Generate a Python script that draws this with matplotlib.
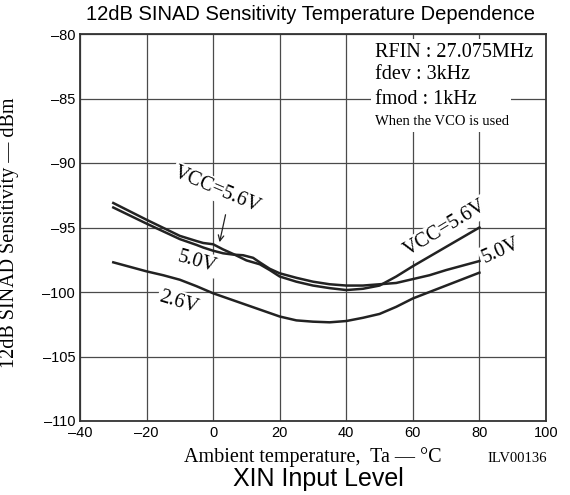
import matplotlib
matplotlib.use("Agg")
import matplotlib.pyplot as plt
from matplotlib.patches import Rectangle

# curve data
temp_56 = [-30, -20, -10, -5, -3, 0, 3, 6, 10, 14, 17, 20, 25, 30, 35, 40, 45, 50, 55, 60, 65, 70, 75, 80]
sens_56 = [-93.1, -94.4, -95.65, -96.05, -96.2, -96.3, -96.7, -97.05, -97.55, -97.85, -98.3, -98.8,
           -99.2, -99.5, -99.7, -99.85, -99.75, -99.5, -98.8, -98.0, -97.25, -96.5, -95.75, -95.0]

temp_50 = [-30, -20, -10, -5, -3, 0, 3, 6, 9, 12, 14, 17, 20, 25, 30, 35, 40, 45, 50, 55, 60, 65, 70, 75, 80]
sens_50 = [-93.45, -94.7, -95.9, -96.35, -96.55, -96.8, -97.0, -97.1, -97.15, -97.35, -97.7, -98.2,
           -98.55, -98.9, -99.2, -99.4, -99.5, -99.5, -99.4, -99.3, -99.0, -98.7, -98.3, -97.95, -97.6]

temp_26 = [-30, -25, -20, -15, -10, -5, 0, 5, 10, 15, 20, 25, 30, 35, 40, 45, 50, 55, 60, 65, 70, 75, 80]
sens_26 = [-97.7, -98.05, -98.4, -98.7, -99.05, -99.55, -100.1, -100.55, -101.0, -101.45, -101.9, -102.2,
           -102.3, -102.35, -102.25, -102.0, -101.7, -101.15, -100.5, -100.0, -99.5, -99.0, -98.5]

x_ticks = [-40, -20, 0, 20, 40, 60, 80, 100]
y_ticks = [-110, -105, -100, -95, -90, -85, -80]

conditions = ["RFIN : 27.075MHz", "fdev : 3kHz", "fmod : 1kHz", "When the VCO is used"]

serif = "Liberation Serif"
sans = "Liberation Sans"

fig = plt.figure(figsize=(5.7, 4.95), dpi=100)
ax = fig.add_axes([80 / 570, 74 / 495, 466 / 570, 387 / 495])

ink = "#222222"
ax.plot(temp_56, sens_56, color=ink, lw=1.8, zorder=3)
ax.plot(temp_50, sens_50, color=ink, lw=1.8, zorder=3)
ax.plot(temp_26, sens_26, color=ink, lw=1.8, zorder=3)

ax.set_xlim(-40, 100)
ax.set_ylim(-110, -80)
ax.set_xticks(x_ticks)
ax.set_yticks(y_ticks)
ax.set_xticklabels([str(t).replace("-", "\u2013") for t in x_ticks], family=sans, fontsize=10.5)
ax.set_yticklabels([str(t).replace("-", "\u2013") for t in y_ticks], family=sans, fontsize=10.5)
ax.tick_params(length=0, pad=3.5)
ax.grid(True, color="#4a4a4a", lw=0.9)
ax.set_axisbelow(True)
for s in ax.spines.values():
    s.set_color("#333333")
    s.set_linewidth(1.3)

box = dict(boxstyle="square,pad=0.1", fc="white", ec="none")

# curve labels
ax.text(1.25, -92.1, "VCC=5.6V", family=serif, fontsize=14.5, rotation=-23,
        ha="center", va="center", bbox=box, zorder=2)
ax.annotate("", xy=(1.75, -96.35), xytext=(3.9, -93.8),
            arrowprops=dict(arrowstyle="->", color=ink, lw=0.9), zorder=4)
ax.text(-4.95, -97.65, "5.0V", family=serif, fontsize=14.5, rotation=-16,
        ha="center", va="center", bbox=box, zorder=2)
ax.text(-10.3, -100.8, "2.6V", family=serif, fontsize=14.5, rotation=-17,
        ha="center", va="center", bbox=box, zorder=2)
ax.text(69.85, -95.06, "VCC=5.6V", family=serif, fontsize=14.5, rotation=31,
        ha="center", va="center", bbox=box, zorder=2)
ax.text(86.4, -96.8, "5.0V", family=serif, fontsize=14.5, rotation=24,
        ha="center", va="center", bbox=box, zorder=2)

# measurement conditions, blanked background like the scan
ax.add_patch(Rectangle((47.3, -87.6), 42.3, 7.0, fc="white", ec="none", zorder=1.5))
cond_y = [-81.45, -83.12, -85.1, -86.8]
cond_size = [14.5, 14.5, 14.5, 10.5]
for txt, yy, fs in zip(conditions, cond_y, cond_size):
    ax.text(48.6, yy, txt, family=serif, fontsize=fs, ha="left", va="center",
            bbox=dict(boxstyle="square,pad=0.2", fc="white", ec="none"), zorder=2)

fig.text(311 / 570, (495 - 14) / 495, "12dB SINAD Sensitivity Temperature Dependence", family=sans,
         fontsize=14.5, ha="center", va="center")
fig.text(0.0158, 0.529, "12dB SINAD Sensitivity \u2014 dBm", family=serif, fontsize=14.5,
         rotation=90, ha="center", va="center")
fig.text(184 / 570, (495 - 457) / 495, "Ambient temperature,  Ta \u2014 \u00b0C", family=serif,
         fontsize=14.5, ha="left", va="center")
fig.text(547 / 570, (495 - 458) / 495, "ILV00136", family=serif, fontsize=10.5,
         ha="right", va="center")
fig.text(318 / 570, (495 - 479) / 495, "XIN Input Level", family=sans, fontsize=18,
         ha="center", va="center")

fig.savefig("out.png", dpi=100)
